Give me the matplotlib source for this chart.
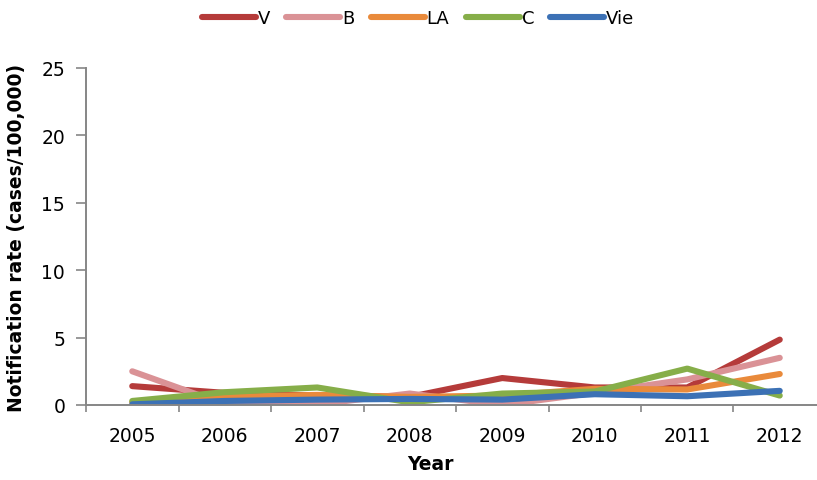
import matplotlib
matplotlib.use("Agg")
import matplotlib.pyplot as plt
import numpy as np

years = ["2005", "2006", "2007", "2008", "2009", "2010", "2011", "2012"]
series_names = ["V", "B", "LA", "C", "Vie"]
v_rate = [1.4, 0.9, 0.7, 0.6, 2.0, 1.3, 1.3, 4.85]
b_rate = [2.5, 0.05, 0.05, 0.85, 0.0, 0.9, 1.9, 3.5]
la_rate = [0.2, 0.6, 0.75, 0.6, 0.7, 1.2, 1.15, 2.3]
c_rate = [0.3, 0.95, 1.3, 0.2, 0.85, 1.0, 2.7, 0.7]
vie_rate = [0.05, 0.3, 0.4, 0.45, 0.4, 0.8, 0.65, 1.05]
colors = ["#B53B3A", "#DA9296", "#E98A3B", "#86AE49", "#3C71B5"]
y_ticks = [0, 5, 10, 15, 20, 25]

fig = plt.figure(figsize=(8.17, 4.81), dpi=100)
ax = fig.add_axes([86 / 817, 75 / 481, 740 / 817, 337 / 481])

x = np.arange(len(years))
for name, vals, col in zip(series_names, [v_rate, b_rate, la_rate, c_rate, vie_rate], colors):
    ax.plot(x, vals, color=col, lw=4.4, solid_capstyle="round", solid_joinstyle="round", label=name)

ax.set_xlim(-0.5, len(years) - 0.5)
ax.set_ylim(0, 25)
ax.set_yticks(y_ticks)
ax.set_yticklabels([str(t) for t in y_ticks], fontsize=13.5)

# category labels at centers, tick marks between categories
ax.set_xticks(np.arange(-0.5, len(years)), labels=[""] * (len(years) + 1))
ax.set_xticks(x, labels=years, minor=True, fontsize=13.5)
ax.tick_params(axis="x", which="minor", length=0, pad=15)
ax.tick_params(axis="x", which="major", length=5, color="#868686", width=1.2)
ax.tick_params(axis="y", length=7, color="#868686", width=1.2, pad=8)

for side in ["top", "right"]:
    ax.spines[side].set_visible(False)
for side in ["left", "bottom"]:
    ax.spines[side].set_color("#868686")
    ax.spines[side].set_linewidth(1.4)

ax.set_xlabel("Year", fontsize=13.5, fontweight="bold")
ax.set_ylabel("Notification rate (cases/100,000)", fontsize=13.5, fontweight="bold")
ax.xaxis.set_label_coords((430 - 86) / 740, -49 / 337)
ax.yaxis.set_label_coords(-60 / 740, 0.5)

fig.legend(loc="center", bbox_to_anchor=(418 / 817, 1 - 19 / 481), ncol=5, frameon=False,
           fontsize=13, handlelength=3.0, handletextpad=0.1, columnspacing=0.9)

fig.savefig("out.png", dpi=100)
